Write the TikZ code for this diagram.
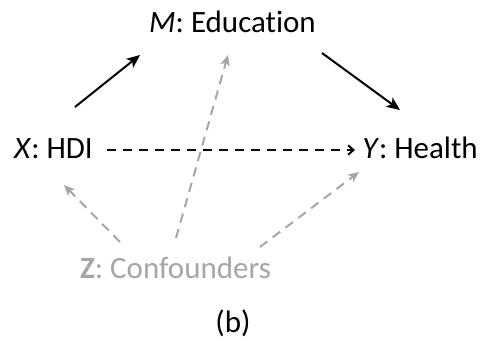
\documentclass[tikz,border=0pt]{standalone}
\usepackage{fontspec}
\setmainfont[Ligatures=CommonOff]{Carlito}
\usetikzlibrary{arrows.meta}
\definecolor{confGray}{HTML}{A6A6A6}

\begin{document}
\begin{tikzpicture}[x=0.75pt, y=-0.75pt,
    var/.style={anchor=base, inner sep=0pt,
                font=\fontsize{23.25}{28}\selectfont},
    direct/.style={line width=1.5pt,
                   -{Stealth[length=10pt, width=8.5pt, inset=2.5pt]}},
    indirect/.style={line width=1.5pt, dash pattern=on 7pt off 5pt,
                     -{Straight Barb[length=4pt, width=7pt]}},
    confound/.style={confGray, line width=1.5pt, dash pattern=on 7pt off 5pt,
                     -{Stealth[length=8pt, width=7pt, inset=2pt]}},
  ]
  \useasboundingbox (0,0) rectangle (483,344);
  % variables
  \node[var] (edu) at (232.5,32) {\textit{M}: Education};
  \node[var] (hdi) at (53.5,158) {\textit{X}: HDI};
  \node[var] (health) at (420,158) {\textit{Y}: Health};
  \node[var, text=confGray] (conf) at (175.5,278) {\textbf{Z}: Confounders};
  \node[var] (tag) at (233,332) {(b)};
  % mediation path
  \draw[direct] ([shift={(21.5,-51)}]hdi.base) -- ([shift={(-92.5,23)}]edu.base);
  \draw[direct] ([shift={(89.5,21)}]edu.base) -- ([shift={(-20,-48)}]health.base);
  \draw[indirect] ([shift={(53.5,-8)}]hdi.base) -- ([shift={(-65,-8)}]health.base);
  % confounding
  \draw[confound] ([shift={(-55.5,-36)}]conf.base) -- ([shift={(10.5,27)}]hdi.base);
  \draw[confound] ([shift={(0.5,-40)}]conf.base) -- ([shift={(-4.5,23)}]edu.base);
  \draw[confound] ([shift={(84.5,-31)}]conf.base) -- ([shift={(-61,14)}]health.base);
\end{tikzpicture}
\end{document}
